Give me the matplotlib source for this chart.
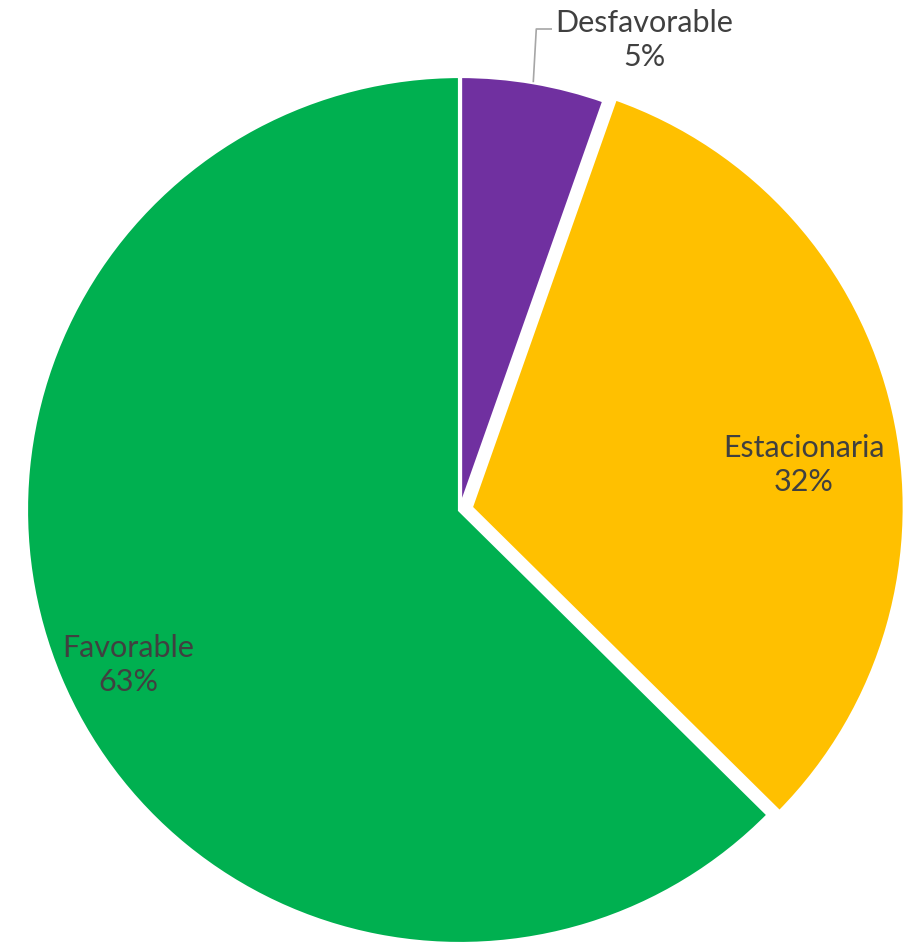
"""Pie chart: Desfavorable / Estacionaria / Favorable share."""

import matplotlib
matplotlib.use('Agg')
import matplotlib.pyplot as plt
import numpy as np

# Data
categories = ['Desfavorable', 'Estacionaria', 'Favorable']
values = [5.4, 32.0, 62.6]
pct_labels = ['5%', '32%', '63%']
colors = ['#7030A0', '#FFC000', '#00B050']

W, H = 916, 942
plt.rcParams['font.family'] = ['Lato', 'DejaVu Sans']

fig = plt.figure(figsize=(W / 100, H / 100), dpi=100)
ax = fig.add_axes([0, 0, 1, 1])

# pie in pixel-like coordinates (y measured from bottom)
cx, cy, r = 460, H - 510, 434
wedges, _ = ax.pie(values, colors=colors, startangle=90, counterclock=False,
                   center=(cx, cy), radius=r, explode=[0, 11, 0],
                   wedgeprops=dict(edgecolor='white', linewidth=3))

ax.set_xlim(0, W)
ax.set_ylim(0, H)
ax.set_aspect('equal')
ax.axis('off')

# label anchor positions (pixels from top-left)
label_pos = [(644, 40), (804, 465), (128, 665)]
txt_color = '#404040'
for name, pct, (px, py) in zip(categories, pct_labels, label_pos):
    ax.text(px, H - py, f'{name}\n{pct}', ha='center', va='center',
            fontsize=22, color=txt_color, linespacing=1.3)

# leader line for the small slice
mid = np.deg2rad(90 - values[0] / sum(values) * 360 / 2)
x0, y0 = cx + r * np.cos(mid), cy + r * np.sin(mid)
ax.plot([x0, x0 + 3, 552], [y0, H - 29, H - 29], color='#A6A6A6', lw=1.2,
        solid_capstyle='butt')

fig.savefig('out.png', dpi=100, facecolor='white')
